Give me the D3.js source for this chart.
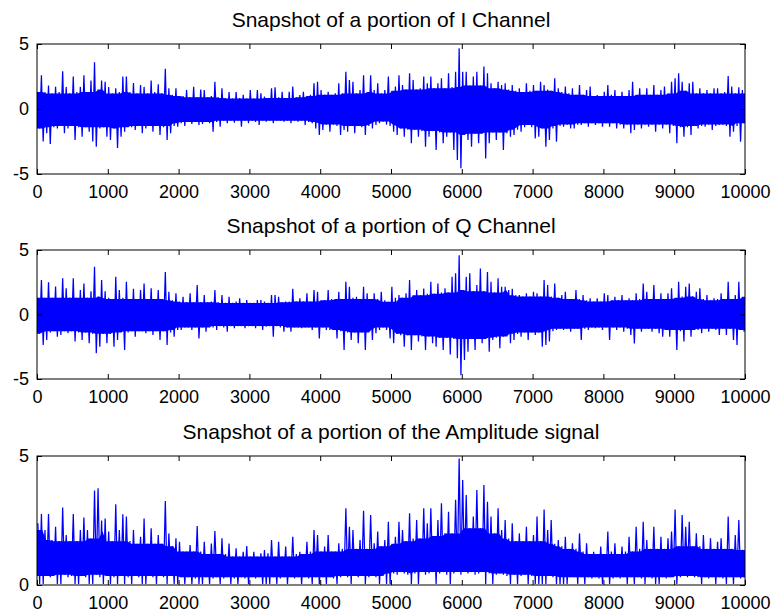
<!DOCTYPE html>
<html lang="en">
<head>
<meta charset="utf-8">
<title>Snapshot of I, Q and amplitude</title>
<script src="https://d3js.org/d3.v7.min.js"></script>
<style>
    body { margin: 0; background: #fff; }
    svg text { font-family: "Liberation Sans", Arial, sans-serif; fill: #000; }
</style>
</head>
<body>
<script>
    // the trace is summarised as its max and min in each 50-sample bin
    var binSize = 50;
    var sampleCount = 10000;
    var xTicks = [0, 1000, 2000, 3000, 4000, 5000, 6000, 7000, 8000, 9000, 10000];

    // I channel
    var iHigh = [1.3, 2.6, 1.3, 1.8, 1.2, 1.7, 1.3, 2.9, 1.7, 1.2,
        2.5, 1.3, 1.7, 2.6, 1.3, 2.2, 3.6, 1.5, 2.2, 2.1,
        1.7, 1.2, 1.6, 1.3, 2.5, 2.5, 1.3, 2.0, 1.2, 1.85,
        1.7, 1.2, 2.2, 1.3, 1.9, 1.2, 3.1, 1.6, 1.1, 1.6,
        1.0, 1.0, 1.45, 0.9, 1.7, 0.9, 1.5, 1.45, 0.9, 1.0,
        2.1, 0.9, 1.6, 0.85, 1.3, 0.8, 1.3, 0.85, 1.1, 0.8,
        1.45, 0.8, 1.45, 1.2, 0.95, 0.85, 1.6, 1.67, 0.9, 1.33,
        0.85, 1.33, 1.72, 0.9, 1.08, 1.33, 1.0, 1.1, 1.97, 2.1,
        1.46, 1.1, 1.33, 1.1, 1.2, 1.97, 1.2, 2.87, 2.23, 2.1,
        1.2, 1.46, 2.6, 1.3, 2.6, 1.46, 1.97, 1.2, 1.46, 2.49,
        1.4, 1.72, 2.6, 1.85, 1.5, 2.74, 2.23, 1.5, 1.6, 2.49,
        1.97, 2.49, 1.6, 1.97, 2.36, 1.6, 2.74, 1.7, 2.87, 4.67,
        2.87, 2.87, 1.8, 2.49, 2.87, 1.8, 3.26, 2.74, 1.97, 1.6,
        2.1, 1.85, 1.97, 1.5, 1.85, 1.4, 1.59, 1.3, 1.97, 1.4,
        1.85, 1.4, 2.1, 1.85, 1.5, 1.4, 2.36, 1.59, 1.3, 1.72,
        1.2, 1.59, 1.1, 1.85, 1.1, 1.46, 1.72, 1.0, 1.08, 1.0,
        1.33, 1.85, 1.1, 1.46, 1.0, 1.33, 1.0, 1.46, 2.1, 1.1,
        1.59, 1.1, 1.59, 1.1, 1.85, 1.1, 1.46, 1.72, 1.2, 2.1,
        2.36, 2.74, 2.1, 1.4, 1.97, 2.1, 1.2, 1.59, 1.2, 1.46,
        1.2, 1.59, 1.59, 1.2, 1.3, 2.54, 1.72, 1.2, 1.67, 1.46];
    var iLow = [-1.5, -2.5, -1.87, -2.7, -1.4, -1.49, -1.3, -1.87, -1.49, -1.3,
        -2.38, -1.4, -2.13, -1.4, -1.74, -2.5, -2.9, -1.5, -1.4, -2.13,
        -2.38, -1.5, -3.0, -2.13, -1.74, -1.4, -1.4, -1.62, -1.3, -1.87,
        -1.49, -1.3, -1.74, -1.3, -2.0, -1.4, -2.38, -1.87, -1.3, -1.36,
        -1.1, -1.31, -1.0, -1.15, -1.0, -1.23, -1.15, -1.0, -1.1, -1.74,
        -1.0, -1.36, -0.9, -1.1, -0.9, -1.05, -0.9, -1.36, -0.9, -1.1,
        -0.9, -1.0, -1.23, -0.9, -0.97, -0.9, -1.1, -0.9, -0.9, -0.97,
        -0.9, -1.1, -0.9, -0.97, -0.9, -1.23, -1.0, -1.1, -1.49, -2.0,
        -1.62, -1.2, -1.74, -1.2, -1.3, -2.0, -1.62, -1.74, -1.3, -1.87,
        -1.3, -1.4, -2.0, -1.3, -1.49, -1.23, -1.1, -0.97, -1.2, -1.3,
        -1.74, -2.0, -1.5, -2.13, -1.6, -2.64, -1.6, -2.13, -1.7, -2.9,
        -2.13, -1.7, -3.15, -1.8, -2.64, -2.13, -1.8, -3.15, -3.92, -4.56,
        -2.0, -2.38, -2.9, -1.9, -2.64, -1.9, -3.8, -2.64, -1.8, -2.38,
        -1.8, -3.15, -1.87, -2.13, -2.0, -1.6, -1.74, -1.4, -1.23, -1.4,
        -2.26, -2.13, -1.5, -2.9, -2.38, -1.5, -2.51, -1.3, -1.36, -1.2,
        -1.49, -1.49, -1.2, -1.23, -1.1, -1.36, -1.1, -1.23, -1.1, -1.36,
        -1.1, -1.36, -1.1, -1.49, -1.2, -1.49, -1.2, -1.87, -1.62, -1.2,
        -1.49, -1.2, -1.36, -1.2, -1.75, -1.2, -1.49, -1.2, -1.87, -1.3,
        -2.64, -1.4, -2.13, -1.4, -2.0, -1.3, -1.49, -1.3, -1.36, -1.2,
        -1.62, -1.3, -1.23, -1.2, -1.3, -2.13, -1.74, -1.3, -2.51, -1.1];

    // Q channel
    var qHigh = [1.3, 2.67, 1.3, 2.5, 1.3, 2.16, 1.3, 2.8, 2.03, 1.3,
        2.8, 1.3, 1.9, 2.4, 1.3, 1.8, 3.7, 1.4, 2.67, 1.8,
        1.3, 1.2, 2.93, 1.9, 1.3, 2.54, 1.2, 2.0, 1.2, 1.9,
        2.41, 1.2, 2.03, 1.2, 1.9, 1.2, 3.3, 1.77, 1.1, 1.64,
        1.0, 1.38, 0.95, 1.64, 0.95, 2.28, 0.95, 1.51, 0.95, 1.0,
        1.9, 0.95, 1.51, 0.9, 1.38, 0.9, 1.0, 1.25, 0.9, 1.12,
        0.9, 0.9, 1.12, 1.12, 1.0, 0.9, 1.5, 1.51, 1.38, 0.95,
        1.0, 1.0, 2.0, 1.0, 1.25, 1.0, 1.64, 1.0, 1.9, 1.77,
        1.1, 1.12, 1.9, 1.2, 1.2, 1.77, 1.2, 2.54, 2.15, 1.3,
        1.38, 1.2, 2.15, 1.64, 1.2, 1.64, 1.2, 1.77, 1.1, 0.99,
        2.15, 1.3, 1.51, 1.3, 1.64, 2.67, 1.5, 1.9, 1.5, 2.02,
        1.6, 2.54, 1.6, 2.41, 1.7, 2.03, 1.7, 2.93, 3.2, 4.6,
        1.9, 2.93, 3.2, 1.8, 2.28, 3.57, 1.8, 3.3, 2.54, 1.7,
        2.8, 2.15, 2.15, 1.9, 2.0, 1.5, 1.51, 1.4, 1.64, 1.4,
        1.77, 1.64, 1.4, 2.67, 2.28, 1.4, 2.41, 1.3, 1.51, 1.77,
        1.2, 1.2, 1.9, 1.2, 1.51, 1.1, 1.25, 1.0, 1.25, 1.0,
        1.64, 1.51, 1.1, 1.38, 1.1, 1.51, 1.1, 1.25, 1.1, 1.64,
        1.2, 2.41, 1.77, 1.2, 2.28, 1.2, 1.64, 1.2, 1.64, 2.03,
        1.3, 2.54, 1.4, 2.15, 2.41, 1.4, 1.77, 2.03, 1.2, 1.51,
        1.1, 1.25, 1.2, 1.64, 1.2, 2.54, 1.2, 1.51, 2.54, 1.38];
    var qLow = [-1.5, -2.37, -1.98, -1.4, -1.3, -1.72, -1.59, -1.3, -1.46, -1.3,
        -2.1, -1.4, -1.98, -1.4, -2.23, -1.5, -3.0, -2.49, -1.5, -2.23,
        -1.5, -2.5, -1.98, -1.4, -2.75, -1.4, -1.3, -1.72, -1.3, -1.3,
        -1.46, -1.3, -1.59, -1.3, -1.98, -1.3, -2.37, -1.4, -1.72, -1.2,
        -1.2, -1.0, -1.0, -1.2, -1.0, -1.85, -1.0, -1.33, -1.0, -1.0,
        -1.2, -0.9, -1.0, -1.33, -0.9, -1.07, -0.9, -0.9, -1.07, -0.9,
        -0.9, -1.07, -0.9, -1.2, -0.94, -0.9, -1.72, -0.9, -1.0, -1.33,
        -1.0, -1.33, -1.0, -1.0, -1.07, -1.0, -1.0, -1.2, -1.0, -1.85,
        -1.0, -1.2, -1.2, -1.2, -1.85, -1.3, -2.75, -1.4, -1.98, -1.4,
        -2.23, -1.4, -2.75, -1.4, -1.98, -1.46, -1.2, -1.0, -1.2, -1.85,
        -2.23, -1.5, -1.6, -2.5, -1.6, -2.75, -1.6, -2.1, -1.7, -2.75,
        -1.7, -2.23, -2.5, -1.8, -2.75, -1.8, -3.1, -1.9, -3.4, -4.7,
        -3.52, -2.88, -1.9, -2.75, -1.9, -2.23, -1.9, -2.88, -1.98, -1.8,
        -2.62, -1.72, -1.7, -2.23, -1.98, -1.5, -1.72, -1.4, -1.98, -1.4,
        -1.59, -1.4, -2.5, -2.37, -2.1, -1.3, -1.2, -1.1, -1.2, -1.1,
        -1.33, -1.1, -1.1, -1.98, -1.1, -1.2, -1.0, -1.07, -1.0, -1.2,
        -1.0, -1.98, -1.0, -1.2, -1.0, -1.33, -1.1, -1.59, -2.24, -1.1,
        -1.33, -1.1, -1.1, -1.33, -1.1, -1.46, -1.72, -1.2, -1.72, -1.2,
        -2.75, -1.3, -2.1, -1.2, -1.72, -1.2, -1.2, -1.46, -1.1, -1.33,
        -1.1, -1.2, -1.59, -1.1, -1.59, -1.1, -1.98, -2.37, -1.2, -1.33];

    // amplitude signal
    var aHigh = [2.39, 2.75, 2.13, 2.75, 1.74, 2.26, 1.7, 3.0, 1.94, 1.7,
        2.75, 1.7, 2.13, 2.62, 2.13, 1.8, 3.66, 3.75, 2.5, 2.58,
        2.07, 1.7, 3.13, 2.13, 2.74, 2.65, 1.7, 2.13, 1.6, 1.87,
        2.58, 1.6, 2.2, 1.6, 1.94, 1.6, 3.26, 2.0, 1.5, 1.81,
        1.68, 1.3, 1.3, 1.55, 1.3, 2.29, 1.3, 1.68, 1.2, 1.61,
        2.09, 1.2, 1.81, 1.2, 1.61, 1.1, 1.42, 1.1, 1.29, 1.51,
        1.1, 1.29, 1.1, 1.23, 1.36, 1.23, 1.74, 1.1, 1.68, 1.1,
        1.49, 1.1, 1.87, 1.2, 1.29, 1.2, 1.68, 1.3, 2.13, 1.94,
        1.3, 1.49, 1.94, 1.3, 1.3, 1.62, 1.4, 2.97, 2.26, 2.13,
        1.4, 1.74, 2.88, 1.4, 2.71, 1.62, 2.07, 1.5, 1.74, 2.45,
        1.6, 1.87, 2.45, 2.13, 1.7, 2.78, 1.8, 2.52, 1.8, 2.97,
        2.39, 2.97, 1.9, 2.52, 3.17, 2.0, 2.84, 2.0, 3.3, 4.9,
        4.07, 3.49, 2.2, 2.65, 3.68, 2.2, 3.88, 3.23, 2.65, 2.0,
        2.97, 2.13, 2.52, 1.8, 2.39, 1.7, 2.0, 1.7, 2.26, 1.7,
        1.94, 2.65, 1.7, 2.93, 2.13, 2.52, 1.6, 1.74, 1.5, 1.87,
        1.4, 1.62, 1.4, 2.0, 1.3, 1.62, 1.2, 1.29, 1.2, 1.49,
        1.2, 2.07, 1.3, 1.62, 1.2, 1.49, 1.3, 1.87, 1.3, 2.26,
        1.4, 2.45, 1.74, 1.4, 2.26, 1.4, 1.87, 1.4, 1.81, 2.07,
        2.93, 1.5, 2.71, 2.26, 2.45, 1.5, 2.0, 1.5, 1.94, 1.4,
        1.81, 1.4, 1.68, 1.81, 1.4, 2.65, 1.4, 1.94, 2.52, 1.36];
    var aLow = [0.04, 0.04, 0.35, 0.3, 0.35, 0.04, 0.04, 0.4, 0.3, 0.35,
        0.04, 0.04, 0.35, 0.3, 0.04, 0.04, 0.4, 0.3, 0.04, 0.35,
        0.04, 0.3, 0.04, 0.35, 0.04, 0.3, 0.04, 0.35, 0.3, 0.04,
        0.04, 0.35, 0.3, 0.04, 0.35, 0.3, 0.04, 0.35, 0.04, 0.04,
        0.3, 0.04, 0.3, 0.04, 0.25, 0.04, 0.04, 0.3, 0.04, 0.25,
        0.3, 0.04, 0.25, 0.3, 0.04, 0.25, 0.04, 0.3, 0.25, 0.04,
        0.3, 0.25, 0.3, 0.04, 0.04, 0.04, 0.3, 0.04, 0.25, 0.3,
        0.04, 0.3, 0.25, 0.3, 0.04, 0.3, 0.25, 0.04, 0.3, 0.04,
        0.3, 0.04, 0.3, 0.25, 0.04, 0.3, 0.35, 0.3, 0.04, 0.35,
        0.3, 0.35, 0.04, 0.3, 0.35, 0.3, 0.04, 0.35, 0.04, 0.04,
        0.45, 0.4, 0.5, 0.45, 0.4, 0.04, 0.45, 0.04, 0.5, 0.4,
        0.45, 0.5, 0.04, 0.45, 0.5, 0.4, 0.04, 0.45, 0.5, 0.4,
        0.5, 0.45, 0.5, 0.4, 0.45, 0.5, 0.04, 0.45, 0.04, 0.4,
        0.45, 0.4, 0.35, 0.04, 0.4, 0.04, 0.35, 0.4, 0.04, 0.35,
        0.04, 0.04, 0.04, 0.04, 0.35, 0.3, 0.04, 0.04, 0.04, 0.04,
        0.3, 0.3, 0.04, 0.3, 0.04, 0.3, 0.25, 0.3, 0.25, 0.04,
        0.3, 0.04, 0.25, 0.3, 0.25, 0.3, 0.04, 0.3, 0.04, 0.3,
        0.25, 0.04, 0.3, 0.25, 0.04, 0.04, 0.3, 0.25, 0.3, 0.3,
        0.04, 0.3, 0.35, 0.3, 0.35, 0.3, 0.3, 0.04, 0.3, 0.25,
        0.3, 0.04, 0.3, 0.25, 0.04, 0.3, 0.04, 0.3, 0.25, 0.3];

    var panels = [
        { title: "Snapshot of a portion of I Channel", top: 44, bottom: 174, yDomain: [-5, 5], yTicks: [-5, 0, 5], high: iHigh, low: iLow },
        { title: "Snapshot of a portion of Q Channel", top: 250, bottom: 379, yDomain: [-5, 5], yTicks: [-5, 0, 5], high: qHigh, low: qLow },
        { title: "Snapshot of a portion of the Amplitude signal", top: 456, bottom: 585, yDomain: [0, 5], yTicks: [0, 5], high: aHigh, low: aLow }
    ];

    var width = 775, height = 614;
    var blue = "#0000ff";
    var x = d3.scaleLinear().domain([0, sampleCount]).range([37, 745]);

    var svg = d3.select("body").append("svg")
        .attr("width", width)
        .attr("height", height);

    // the part that all nearby swings pass through is drawn solid
    function solidBand(high, low) {
        var band = high.map(function (h, j) {
            var a = Math.max(0, j - 2), b = Math.min(high.length, j + 3);
            return { s: j * binSize + binSize / 2, hi: d3.min(high.slice(a, b)), lo: d3.max(low.slice(a, b)) };
        });
        band.unshift({ s: 0, hi: band[0].hi, lo: band[0].lo });
        band.push({ s: sampleCount, hi: band[band.length - 1].hi, lo: band[band.length - 1].lo });
        return band;
    }

    panels.forEach(function (p, n) {
        var y = d3.scaleLinear().domain(p.yDomain).range([p.bottom, p.top]);

        svg.append("clipPath").attr("id", "clip" + n)
            .append("rect")
            .attr("x", x(0)).attr("y", p.top)
            .attr("width", x(sampleCount) - x(0)).attr("height", p.bottom - p.top);

        var g = svg.append("g").attr("clip-path", "url(#clip" + n + ")");

        g.append("path")
            .datum(solidBand(p.high, p.low))
            .attr("fill", blue)
            .attr("d", d3.area()
                .x(function (d) { return x(d.s); })
                .y0(function (d) { return y(d.lo); })
                .y1(function (d) { return y(d.hi); }));

        // trace swings up to the bin max, then down to the bin min
        var pts = [];
        p.high.forEach(function (h, j) {
            pts.push([j * binSize + binSize * 0.25, h]);
            pts.push([j * binSize + binSize * 0.75, p.low[j]]);
        });
        g.append("path")
            .datum(pts)
            .attr("fill", "none")
            .attr("stroke", blue)
            .attr("stroke-width", 1.25)
            .attr("d", d3.line()
                .x(function (d) { return x(d[0]); })
                .y(function (d) { return y(d[1]); }));

        // axes with inward ticks on all four sides
        var label = function (d) { return String(d); };
        var bottomAxis = svg.append("g")
            .attr("transform", "translate(0," + p.bottom + ")")
            .call(d3.axisBottom(x).tickValues(xTicks).tickSize(-5).tickPadding(11).tickFormat(label));
        svg.append("g")
            .attr("transform", "translate(0," + p.top + ")")
            .call(d3.axisTop(x).tickValues(xTicks).tickSize(-5).tickFormat(""));
        var leftAxis = svg.append("g")
            .attr("transform", "translate(" + x(0) + ",0)")
            .call(d3.axisLeft(y).tickValues(p.yTicks).tickSize(-5).tickPadding(8).tickFormat(label));
        svg.append("g")
            .attr("transform", "translate(" + x(sampleCount) + ",0)")
            .call(d3.axisRight(y).tickValues(p.yTicks).tickSize(-5).tickFormat(""));

        svg.selectAll(".domain").remove();
        svg.selectAll(".tick line").attr("stroke", "#000");
        [bottomAxis, leftAxis].forEach(function (a) {
            a.attr("font-family", null).attr("font-size", 18);
            a.selectAll("text").attr("fill", "#000");
        });

        svg.append("rect")
            .attr("x", x(0)).attr("y", p.top)
            .attr("width", x(sampleCount) - x(0)).attr("height", p.bottom - p.top)
            .attr("fill", "none")
            .attr("stroke", "#000")
            .attr("stroke-width", 1);

        svg.append("text")
            .attr("x", (x(0) + x(sampleCount)) / 2)
            .attr("y", p.top - 17)
            .attr("text-anchor", "middle")
            .attr("font-size", 21)
            .text(p.title);
    });
</script>
</body>
</html>
